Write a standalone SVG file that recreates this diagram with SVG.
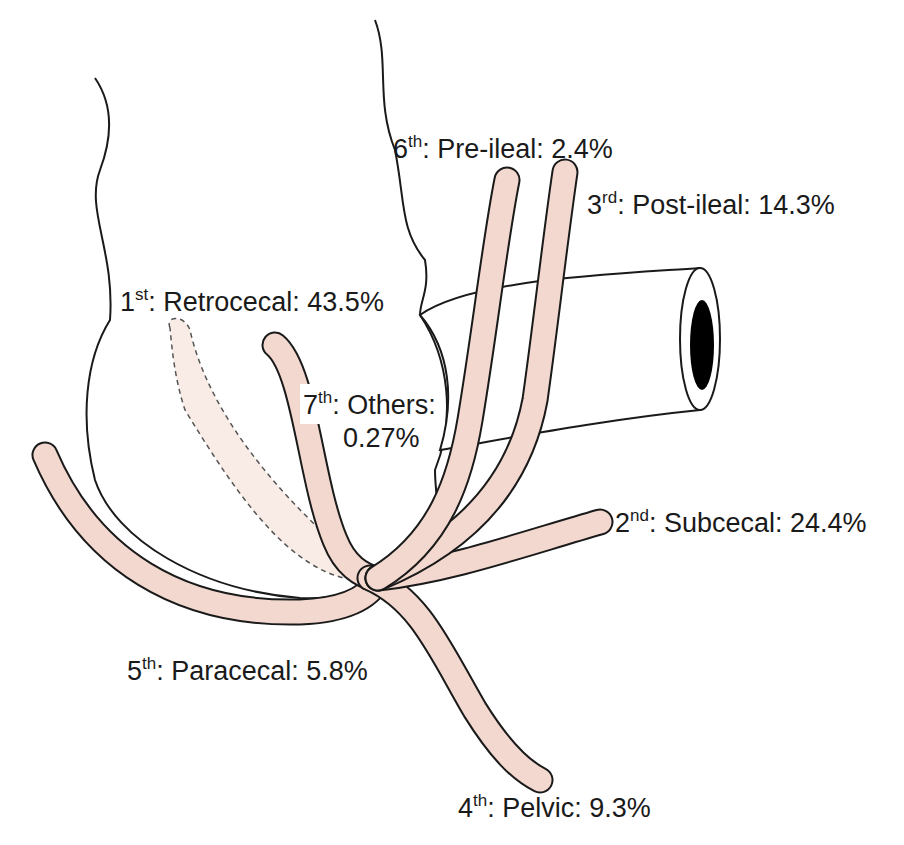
<svg xmlns="http://www.w3.org/2000/svg" width="904" height="845" viewBox="0 0 904 845">
<style>
.o{fill:none;stroke:#1a1a1a;stroke-width:2}
.tb{fill:none;stroke:#1a1a1a;stroke-width:27;stroke-linecap:round}
.tf{fill:none;stroke:#f2d8ce;stroke-width:23;stroke-linecap:round}
text{font-family:"Liberation Sans",Arial,sans-serif;font-size:27px;fill:#1a1a1a}
tspan.s{font-size:17px}
</style>
<rect width="904" height="845" fill="#fff"/>
<g id="cecum">
<path class="o" d="M95,78 C110,100 115,130 100,170 C85,210 115,250 110,320 C85,360 80,420 95,480 C115,540 200,590 300,598 C340,600 365,590 378,578"/>
<path class="o" d="M375,20 C390,60 375,100 395,150 C405,200 400,230 425,260 C430,290 420,300 420,315 C450,360 455,420 435,470 C435,500 445,520 420,545 C410,560 395,570 378,578"/>
</g>
<g id="ileum">
<path d="M420,315 C470,280 600,275 700,268 L700,410 C600,420 500,440 440,450 C455,400 450,350 420,315 Z" fill="#fff" stroke="#1a1a1a" stroke-width="2"/>
<ellipse cx="700" cy="339" rx="20" ry="71" fill="#fff" stroke="#1a1a1a" stroke-width="2"/>
<ellipse cx="702" cy="345" rx="12" ry="45" fill="#000"/>
</g>
<g id="retrocecal">
<path d="M170,328 C165,315 185,315 190,330 C210,420 290,510 378,580 C300,590 240,500 185,410 C175,380 172,350 170,328 Z" fill="#f9ebe5" stroke="#555" stroke-width="1.5" stroke-dasharray="5,4"/>
</g>
<g id="connectors">
<g id="paracecal"><path class="tb" d="M45,455 C90,560 180,615 300,612 C350,610 370,595 378,580"/><path class="tf" d="M45,455 C90,560 180,615 300,612 C350,610 370,595 378,580"/></g>
<g id="others"><path class="tb" d="M275,345 C305,370 310,480 335,540 C345,565 360,575 378,580"/><path class="tf" d="M275,345 C305,370 310,480 335,540 C345,565 360,575 378,580"/></g>
<g id="pelvic"><path class="tb" d="M370,578 C420,600 440,650 475,710 C500,750 520,770 540,780"/><path class="tf" d="M370,578 C420,600 440,650 475,710 C500,750 520,770 540,780"/></g>
<g id="subcecal"><path class="tb" d="M378,578 C450,570 520,545 600,522"/><path class="tf" d="M378,578 C450,570 520,545 600,522"/></g>
<g id="postileal"><path class="tb" d="M378,578 C470,540 520,480 535,400 C545,330 555,240 565,172"/><path class="tf" d="M378,578 C470,540 520,480 535,400 C545,330 555,240 565,172"/></g>
<g id="preileal"><path class="tb" d="M378,578 C440,540 460,480 470,420 C485,330 495,240 507,180"/><path class="tf" d="M378,578 C440,540 460,480 470,420 C485,330 495,240 507,180"/></g>
</g>
<g id="labels">
<text x="393" y="158">6<tspan class="s" dy="-11">th</tspan><tspan dy="11">: Pre-ileal: 2.4%</tspan></text>
<text x="587" y="214">3<tspan class="s" dy="-11">rd</tspan><tspan dy="11">: Post-ileal: 14.3%</tspan></text>
<text x="120" y="311">1<tspan class="s" dy="-11">st</tspan><tspan dy="11">: Retrocecal: 43.5%</tspan></text>
<rect x="300" y="384" width="138" height="40" fill="#fff"/>
<text x="303" y="414">7<tspan class="s" dy="-11">th</tspan><tspan dy="11">: Others:</tspan></text>
<text x="343" y="447">0.27%</text>
<text x="615" y="532">2<tspan class="s" dy="-11">nd</tspan><tspan dy="11">: Subcecal: 24.4%</tspan></text>
<text x="127" y="680">5<tspan class="s" dy="-11">th</tspan><tspan dy="11">: Paracecal: 5.8%</tspan></text>
<text x="458" y="817">4<tspan class="s" dy="-11">th</tspan><tspan dy="11">: Pelvic: 9.3%</tspan></text>
</g>
</svg>
